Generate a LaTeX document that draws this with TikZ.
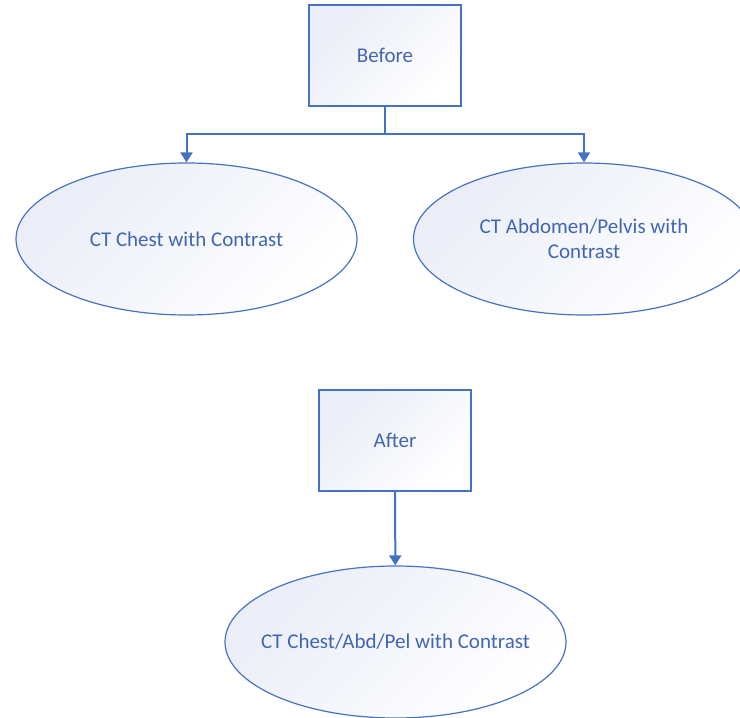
\documentclass[tikz,border=0pt]{standalone}
\usepackage{fontspec}
\setmainfont{Carlito}
\usepackage{xcolor}
\definecolor{lineblue}{rgb}{0.27,0.45,0.77}
\definecolor{textblue}{rgb}{0.25,0.40,0.70}
\definecolor{paleblue}{rgb}{0.92,0.93,0.97}
\usetikzlibrary{arrows.meta, shapes.geometric}

\tikzset{
    stepbox/.style={draw=lineblue, line width=1.4pt, top color=paleblue, bottom color=white,
        shading angle=45, minimum width=152pt, minimum height=101pt, inner sep=0pt,
        text=textblue, font=\fontsize{21}{25}\selectfont},
    scanoval/.style={ellipse, draw=lineblue, line width=1.2pt, top color=paleblue, bottom color=white,
        shading angle=45, minimum width=341pt, minimum height=152pt, inner sep=0pt,
        text=textblue, align=center, font=\fontsize{21}{25}\selectfont},
    link/.style={draw=lineblue, line width=2pt},
    arr/.style={link, -{Triangle[width=12pt,length=10pt]}}
}

\begin{document}
\begin{tikzpicture}
    [x=1pt, y=-1pt]
    \useasboundingbox (0,0) rectangle (740,718);
    % before
    \node[stepbox] (before) at (385,55.5) {Before};
    \node[scanoval] (chest) at (186.5,239) {CT Chest with Contrast};
    \node[scanoval] (abdpel) at (584,239) {CT Abdomen/Pelvis with\\Contrast};
    \coordinate (split) at (385,134);
    \draw[link] (before) -- (split);
    \draw[arr] (split) -| (chest);
    \draw[arr] (split) -| (abdpel);
    % after
    \node[stepbox] (after) at (395,440.5) {After};
    \node[scanoval, inner xsep=-20pt] (combined) at (395.5,642) {CT Chest/Abd/Pel with Contrast};
    \draw[arr] (after) -- (combined);
\end{tikzpicture}
\end{document}
